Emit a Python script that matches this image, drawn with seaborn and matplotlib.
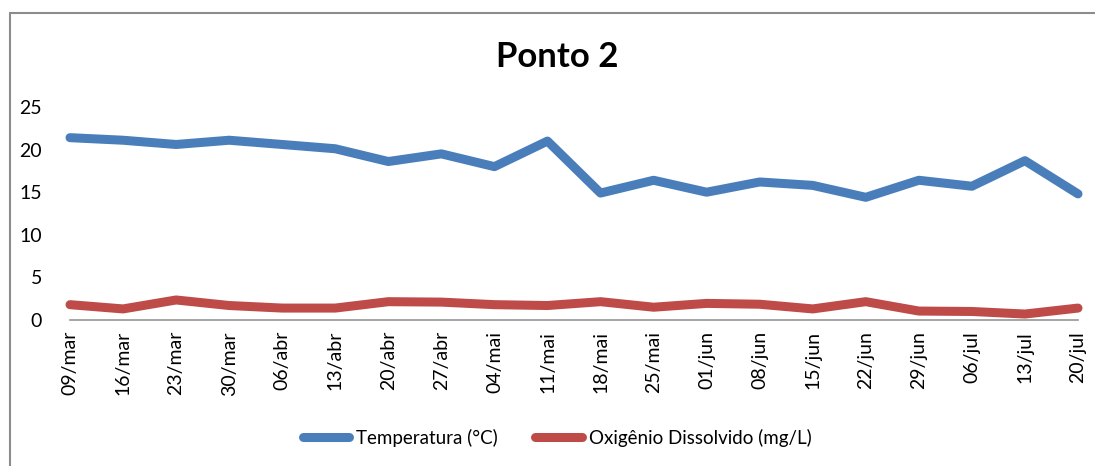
import matplotlib
matplotlib.use("Agg")
import matplotlib.pyplot as plt
from matplotlib.lines import Line2D
import seaborn as sns
import pandas as pd

dates = ["09/mar", "16/mar", "23/mar", "30/mar", "06/abr", "13/abr", "20/abr", "27/abr",
         "04/mai", "11/mai", "18/mai", "25/mai", "01/jun", "08/jun", "15/jun", "22/jun",
         "29/jun", "06/jul", "13/jul", "20/jul"]
temperatura = [21.4, 21.1, 20.6, 21.1, 20.6, 20.1, 18.6, 19.5, 18.0, 21.0,
               14.9, 16.4, 15.0, 16.2, 15.8, 14.4, 16.4, 15.7, 18.7, 14.8]
oxigenio = [1.8, 1.3, 2.35, 1.7, 1.4, 1.4, 2.15, 2.1, 1.8, 1.7,
            2.15, 1.5, 1.95, 1.85, 1.3, 2.15, 1.05, 1.0, 0.7, 1.4]
series_names = ["Temperatura (°C)", "Oxigênio Dissolvido (mg/L)"]
colors = ["#4A7EBB", "#BE4B48"]
yticks = [0, 5, 10, 15, 20, 25]

df = pd.DataFrame({
    "Data": dates * 2,
    "Valor": temperatura + oxigenio,
    "Serie": [series_names[0]] * len(dates) + [series_names[1]] * len(dates),
})
df["idx"] = list(range(len(dates))) * 2

sns.set_theme(style="white")
plt.rcParams["font.family"] = ["Lato", "DejaVu Sans"]
plt.rcParams["text.color"] = "black"
plt.rcParams["xtick.color"] = "black"
plt.rcParams["ytick.color"] = "black"

fig = plt.figure(figsize=(10.95, 4.66), dpi=100)
ax = fig.add_axes([70 / 1095, 1 - 320 / 466, (1078 - 70) / 1095, (320 - 107) / 466])

sns.lineplot(data=df, x="idx", y="Valor", hue="Serie", palette=colors, ax=ax,
             linewidth=6.5, legend=False, solid_capstyle="round", solid_joinstyle="round")
for ln in ax.get_lines():
    ln.set_clip_on(False)

ax.set_xlim(0, len(dates) - 1)
ax.set_ylim(0, 25)
ax.set_yticks(yticks)
ax.set_yticklabels([str(v) for v in yticks], fontsize=14, color="black")
ax.set_xticks(range(len(dates)))
ax.set_xticklabels(dates, rotation=90, fontsize=14, color="black")
ax.tick_params(axis="y", length=0, pad=20)
ax.tick_params(axis="x", length=0, pad=8)
ax.set_xlabel("")
ax.set_ylabel("")
for s in ["top", "right", "left"]:
    ax.spines[s].set_visible(False)
ax.spines["bottom"].set_color("#969696")
ax.spines["bottom"].set_linewidth(1.2)

fig.text(557 / 1095, 1 - 57 / 466, "Ponto 2", ha="center", va="center",
         fontsize=25, fontweight="bold", color="black")

handles = [Line2D([0], [0], color=c, lw=6.5, solid_capstyle="round") for c in colors]
leg = fig.legend(handles, series_names, loc="center", bbox_to_anchor=(557 / 1095, 1 - 438 / 466),
                 ncol=2, frameon=False, fontsize=13.5, handlelength=2.5, handletextpad=0.35,
                 columnspacing=2.0)
for t in leg.get_texts():
    t.set_color("black")

# chart border (partial, as in the cropped reference)
fig.add_artist(Line2D([10 / 1095, 10 / 1095], [0, 1 - 13 / 466], color="#8c8c8c", lw=1.5,
                      transform=fig.transFigure))
fig.add_artist(Line2D([10 / 1095, 1], [1 - 13 / 466, 1 - 13 / 466], color="#8c8c8c", lw=1.5,
                      transform=fig.transFigure))

fig.savefig("out.png", dpi=100)
